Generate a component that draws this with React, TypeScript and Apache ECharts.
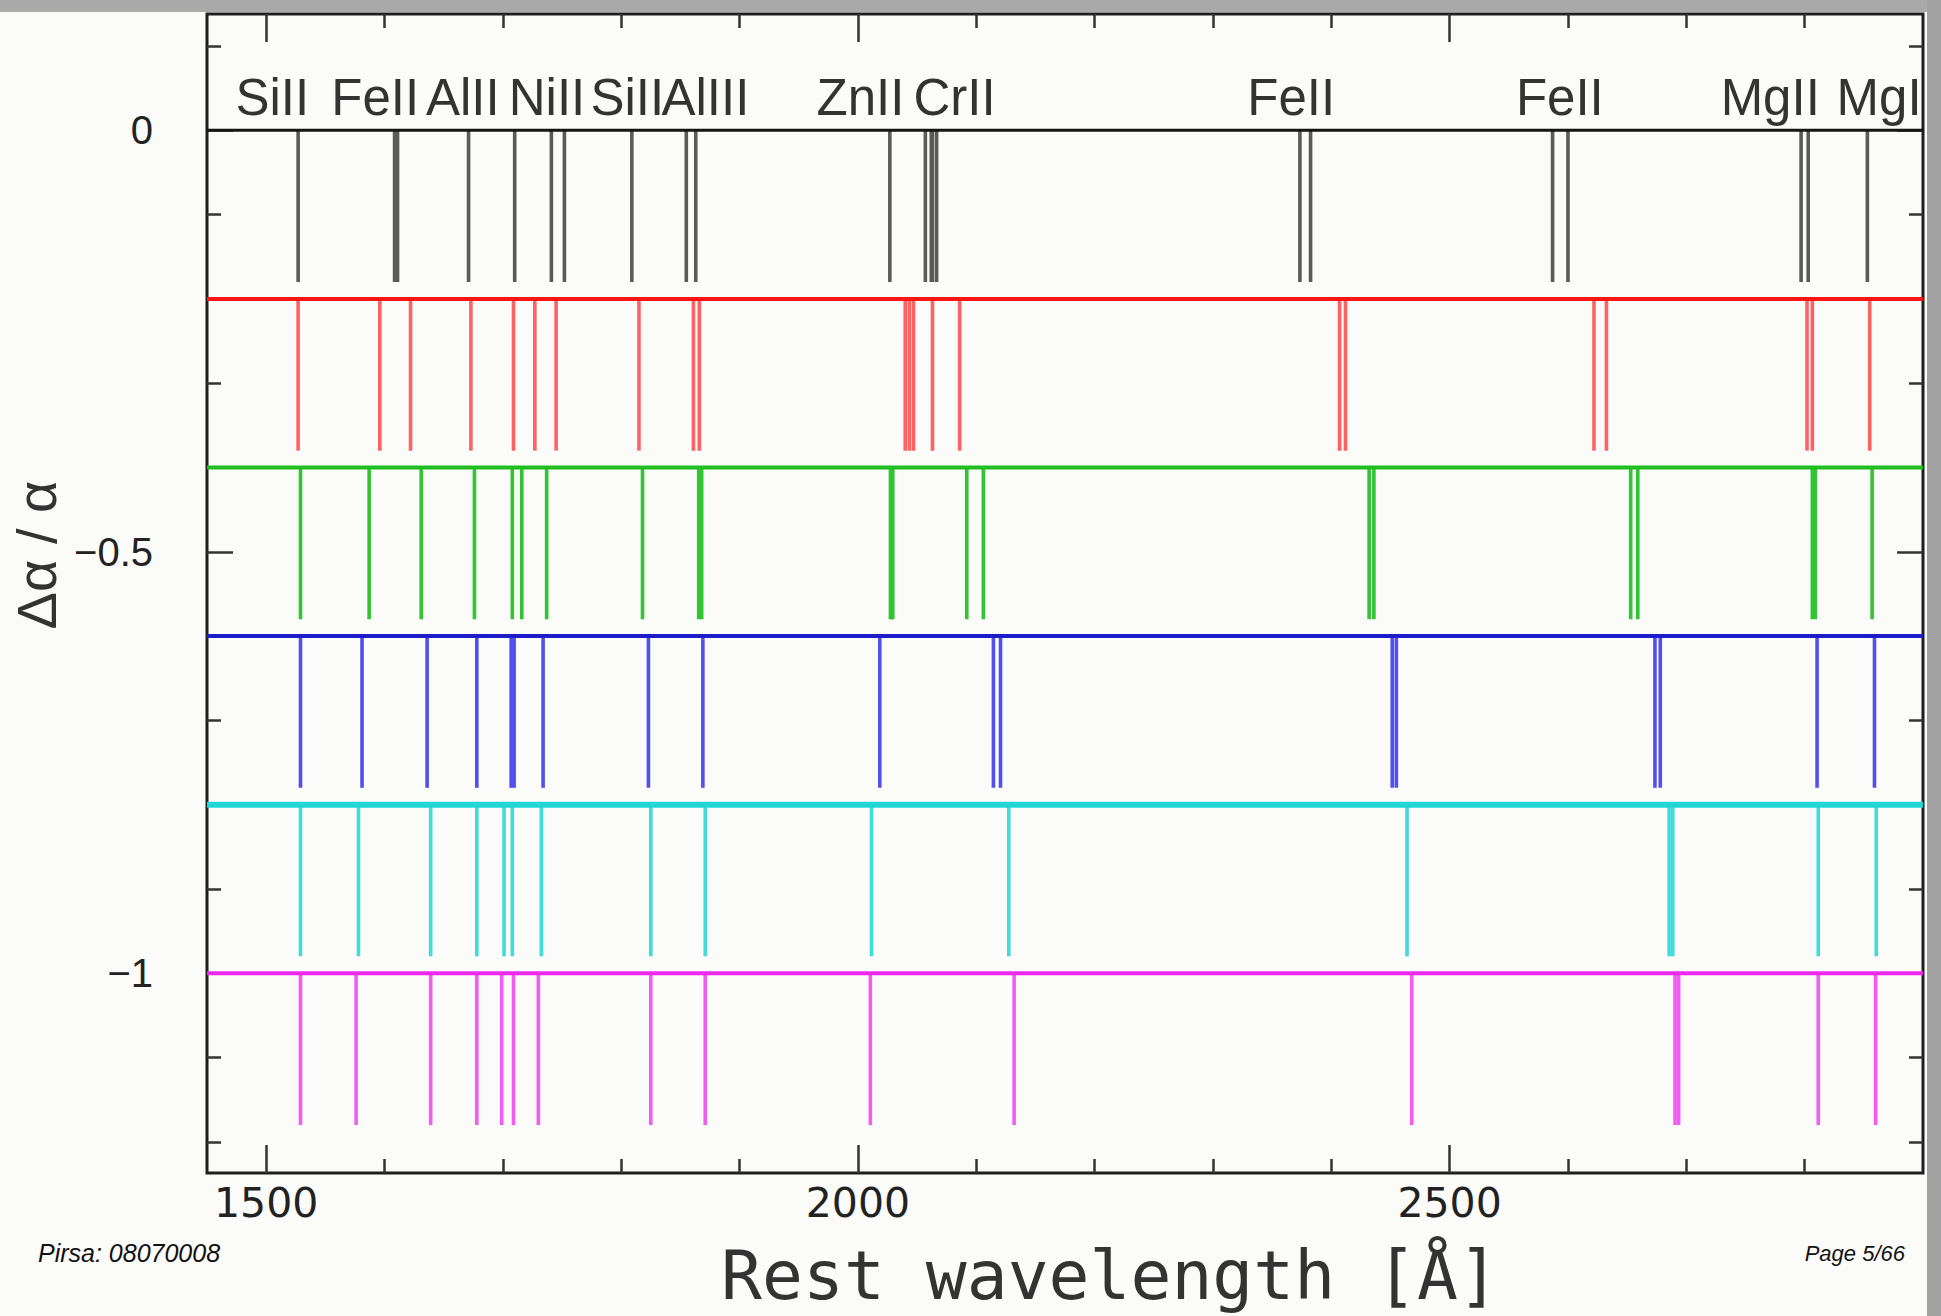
import React, { useEffect, useRef } from "react";
import * as echarts from "echarts";

// ---- data -------------------------------------------------------------
// rest wavelengths (Å) of each line, per trial value of Δα/α
const rowOffsets = [0, -0.2, -0.4, -0.6, -0.8, -1.0];
const linesBlack = [1527, 1608.5, 1611, 1671, 1710, 1741, 1752, 1809, 1855, 1863, 2027, 2057, 2062, 2063, 2066.5, 2373.5, 2382.5, 2587, 2600, 2797, 2803, 2853];
const linesRed = [1527, 1596, 1622, 1673, 1709, 1727, 1745, 1815, 1861, 1866, 2040, 2043.5, 2047, 2063, 2086, 2407, 2412, 2622, 2632.5, 2802, 2806.5, 2855];
const linesGreen = [1529, 1587, 1631, 1676, 1708, 1716, 1737, 1818, 1865.5, 1868, 2027.5, 2028.5, 2029.5, 2092, 2106, 2432, 2436, 2653, 2659, 2806.5, 2809, 2857];
const linesBlue = [1529, 1581, 1636, 1678, 1707, 1709.5, 1734, 1823, 1869, 2018.5, 2114.5, 2120.5, 2451.5, 2455, 2673.5, 2678, 2810.5, 2859];
const linesCyan = [1529, 1578, 1639, 1678, 1701, 1708, 1732.5, 1825, 1871, 2011.5, 2127.5, 2464, 2685.5, 2688.5, 2811.5, 2860.5];
const linesMagenta = [1529, 1576, 1639, 1678, 1699, 1709, 1730, 1825, 1871, 2010.5, 2132, 2468, 2690.5, 2693.5, 2811.5, 2860];
const rowLines = [linesBlack, linesRed, linesGreen, linesBlue, linesCyan, linesMagenta];

const ionLabels = ["SiII", "FeII", "AlII", "NiII", "SiII", "AlIII", "ZnII", "CrII", "FeII", "FeII", "MgII", "MgI"];
const ionLabelWavelengths = [1474, 1555, 1635, 1705, 1774, 1834, 1965, 2047, 2329, 2556, 2729, 2827];

const xMajorTicks = [1500, 2000, 2500];
const xMinorTicks = [1600, 1700, 1800, 1900, 2100, 2200, 2300, 2400, 2600, 2700, 2800];
const yMajorTicks = [0, -0.5, -1];
const yMinorTicks = [0.1, -0.1, -0.2, -0.3, -0.4, -0.6, -0.7, -0.8, -0.9, -1.1, -1.2];

// ---- styling -----------------------------------------------------------
const X_MIN = 1450;
const X_MAX = 2900;
const Y_MIN = -1.237;
const Y_MAX = 0.138;
const DROP = 0.18;
const LABEL_Y = 0.039;

const baseColors = ["#151515", "#ff1414", "#1fbf1f", "#1c1cc8", "#22d6d6", "#ec28ec"];
const baseWidths = [3, 4, 4, 4, 6, 4];
const tickColors = ["#5a5a5a", "#ff6262", "#33c433", "#5050ee", "#40dcdc", "#f25cf2"];

const fmt = (v: number) => {
  if (Math.abs(v) < 1e-9) return "0";
  return v < 0 ? "\u2212" + String(Math.abs(v)) : String(v);
};

function makeXAxis(pos: "top" | "bottom", major: boolean, labels: boolean) {
  return {
    type: "value",
    position: pos,
    min: X_MIN,
    max: X_MAX,
    axisLine: { show: false, onZero: false },
    splitLine: { show: false },
    axisTick: {
      show: true,
      inside: true,
      length: major ? 28 : 14,
      customValues: major ? xMajorTicks : xMinorTicks,
      lineStyle: { color: "#333", width: 2.5 },
    },
    axisLabel: labels
      ? {
          show: true,
          customValues: xMajorTicks,
          margin: 9,
          fontFamily: "DejaVu Sans",
          fontSize: 41,
          color: "#222",
          formatter: (v: number) => fmt(v),
        }
      : { show: false },
  };
}

function makeYAxis(pos: "left" | "right", major: boolean, labels: boolean) {
  return {
    type: "value",
    position: pos,
    min: Y_MIN,
    max: Y_MAX,
    axisLine: { show: false, onZero: false },
    splitLine: { show: false },
    axisTick: {
      show: true,
      inside: true,
      length: major ? 26 : 14,
      customValues: major ? yMajorTicks : yMinorTicks,
      lineStyle: { color: "#333", width: 2.5 },
    },
    axisLabel: labels
      ? {
          show: true,
          customValues: yMajorTicks,
          margin: 54,
          fontFamily: "Liberation Sans",
          fontSize: 40,
          color: "#222",
          formatter: (v: number) => fmt(v),
        }
      : { show: false },
  };
}

export default function App() {
  const ref = useRef<HTMLDivElement>(null);

  useEffect(() => {
    if (!ref.current) return;
    const chart = echarts.init(ref.current, undefined, { renderer: "svg" });

    const series: any[] = [];
    rowLines.forEach((arr, i) => {
      const off = rowOffsets[i];
      series.push({
        type: "custom",
        coordinateSystem: "cartesian2d",
        xAxisIndex: 0,
        yAxisIndex: 0,
        silent: true,
        z: 2,
        data: arr.map((w) => [w, off]),
        renderItem: (_p: any, api: any) => {
          const lam = api.value(0);
          const y0 = api.value(1);
          const a = api.coord([lam, y0]);
          const b = api.coord([lam, y0 - DROP]);
          return {
            type: "line",
            shape: { x1: a[0], y1: a[1], x2: b[0], y2: b[1] },
            style: { stroke: tickColors[i], lineWidth: 3.6 },
          };
        },
      });
      series.push({
        type: "line",
        xAxisIndex: 0,
        yAxisIndex: 0,
        silent: true,
        z: 3,
        showSymbol: false,
        symbol: "none",
        data: [
          [X_MIN, off],
          [X_MAX, off],
        ],
        lineStyle: { color: baseColors[i], width: baseWidths[i] },
      });
    });

    series.push({
      type: "custom",
      coordinateSystem: "cartesian2d",
      xAxisIndex: 0,
      yAxisIndex: 0,
      silent: true,
      z: 5,
      data: ionLabelWavelengths.map((w, i) => [w, LABEL_Y, i]),
      renderItem: (_p: any, api: any) => {
        const p = api.coord([api.value(0), api.value(1)]);
        return {
          type: "text",
          x: p[0],
          y: p[1],
          style: {
            text: ionLabels[api.value(2)],
            fill: "#333",
            fontSize: 51,
            fontFamily: "Liberation Sans",
            align: "left",
            verticalAlign: "middle",
          },
        };
      },
    });

    chart.setOption({
      animation: false,
      backgroundColor: "#fbfbf9",
      grid: {
        left: 207,
        top: 14,
        width: 1716,
        height: 1159,
        show: true,
        borderColor: "#1e1e1e",
        borderWidth: 3,
        backgroundColor: "transparent",
        containLabel: false,
      },
      xAxis: [
        makeXAxis("bottom", true, true),
        makeXAxis("bottom", false, false),
        makeXAxis("top", true, false),
        makeXAxis("top", false, false),
      ],
      yAxis: [
        makeYAxis("left", true, true),
        makeYAxis("left", false, false),
        makeYAxis("right", true, false),
        makeYAxis("right", false, false),
      ],
      series,
      graphic: [
        { type: "rect", left: 0, top: 0, shape: { width: 1941, height: 12 }, style: { fill: "#a9a9a9" }, z: 10 },
        { type: "rect", left: 1927, top: 0, shape: { width: 14, height: 1316 }, style: { fill: "#a2a2a2" }, z: 10 },
        {
          type: "text",
          x: 36,
          y: 555,
          rotation: Math.PI / 2,
          style: {
            text: "\u0394\u03b1 / \u03b1",
            fill: "#333",
            fontSize: 56,
            fontFamily: "Liberation Sans",
            align: "center",
            verticalAlign: "middle",
          },
          z: 10,
        },
        {
          type: "text",
          x: 1110,
          y: 1275,
          style: {
            text: "Rest wavelength [\u00c5]",
            fill: "#333",
            fontSize: 68,
            fontFamily: "DejaVu Sans Mono",
            align: "center",
            verticalAlign: "middle",
          },
          z: 10,
        },
        {
          type: "text",
          x: 38,
          y: 1253,
          style: {
            text: "Pirsa: 08070008",
            fill: "#111",
            fontSize: 25,
            fontStyle: "italic",
            fontFamily: "Liberation Sans",
            align: "left",
            verticalAlign: "middle",
          },
          z: 10,
        },
        {
          type: "text",
          x: 1905,
          y: 1253,
          style: {
            text: "Page 5/66",
            fill: "#111",
            fontSize: 22,
            fontStyle: "italic",
            fontFamily: "Liberation Sans",
            align: "right",
            verticalAlign: "middle",
          },
          z: 10,
        },
      ],
    });

    return () => chart.dispose();
  }, []);

  return (
    <div
      ref={ref}
      style={{ position: "absolute", left: 0, top: 0, width: 1941, height: 1316 }}
    />
  );
}
